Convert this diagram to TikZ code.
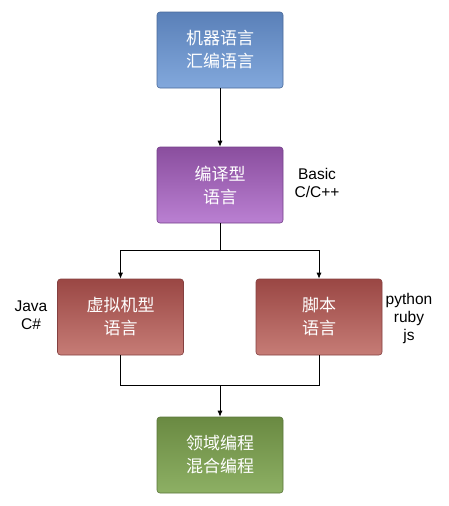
\documentclass[tikz,border=0pt]{standalone}
\usepackage{fontspec}
\setmainfont{Liberation Sans}
\newfontfamily\cjk{Noto Sans CJK SC}
\usetikzlibrary{arrows.meta}
\definecolor{bluetop}{HTML}{5A80B8}
\definecolor{bluebot}{HTML}{82A8DC}
\definecolor{blueedge}{HTML}{4A6A9A}
\definecolor{purtop}{HTML}{8A4E9E}
\definecolor{purbot}{HTML}{BA80D2}
\definecolor{puredge}{HTML}{74408A}
\definecolor{redtop}{HTML}{9A4744}
\definecolor{redbot}{HTML}{C67C76}
\definecolor{rededge}{HTML}{844040}
\definecolor{grntop}{HTML}{6A8A42}
\definecolor{grnbot}{HTML}{8DB064}
\definecolor{grnedge}{HTML}{5A763A}
\tikzset{
  box/.style={rounded corners=3pt, minimum width=126pt, minimum height=76pt,
    inner sep=0pt, text=white, align=center, line width=0.6pt,
    font=\cjk\fontsize{17}{23}\selectfont},
  bluebox/.style={box, draw=blueedge, top color=bluetop, bottom color=bluebot},
  purbox/.style={box, draw=puredge, top color=purtop, bottom color=purbot},
  redbox/.style={box, draw=rededge, top color=redtop, bottom color=redbot},
  grnbox/.style={box, draw=grnedge, top color=grntop, bottom color=grnbot},
  lbl/.style={align=center, font=\fontsize{15.5}{18}\selectfont, inner sep=0pt},
  conn/.style={line width=0.8pt, black},
  arr/.style={conn, -{Latex[length=6pt,width=5pt]}}
}
\begin{document}
\begin{tikzpicture}[x=1pt,y=1pt]
\useasboundingbox (0,0) rectangle (449,-506);
\node[bluebox] (b1) at (220,-50) {机器语言\\汇编语言};
\node[purbox] (b2) at (220,-185) {编译型\\语言};
\node[redbox] (b3) at (120.5,-317) {虚拟机型\\语言};
\node[redbox] (b4) at (319,-317) {脚本\\语言};
\node[grnbox] (b5) at (220,-455) {领域编程\\混合编程};
\node[lbl] (l2) at (317,-183) {Basic\\C/C++};
\node[lbl] (l3) at (31,-315) {Java\\C\#};
\node[lbl] (l4) at (409,-318) {python\\ruby\\js};
\coordinate (split) at (220,-250);
\coordinate (merge) at (220,-385);
\draw[arr] (b1) -- (b2);
\draw[conn] (b2) -- (split);
\draw[arr] (split) -| (b3);
\draw[arr] (split) -| (b4);
\draw[conn] (b3) |- (merge);
\draw[conn] (b4) |- (merge);
\draw[arr] (merge) -- (b5);
\end{tikzpicture}
\end{document}
